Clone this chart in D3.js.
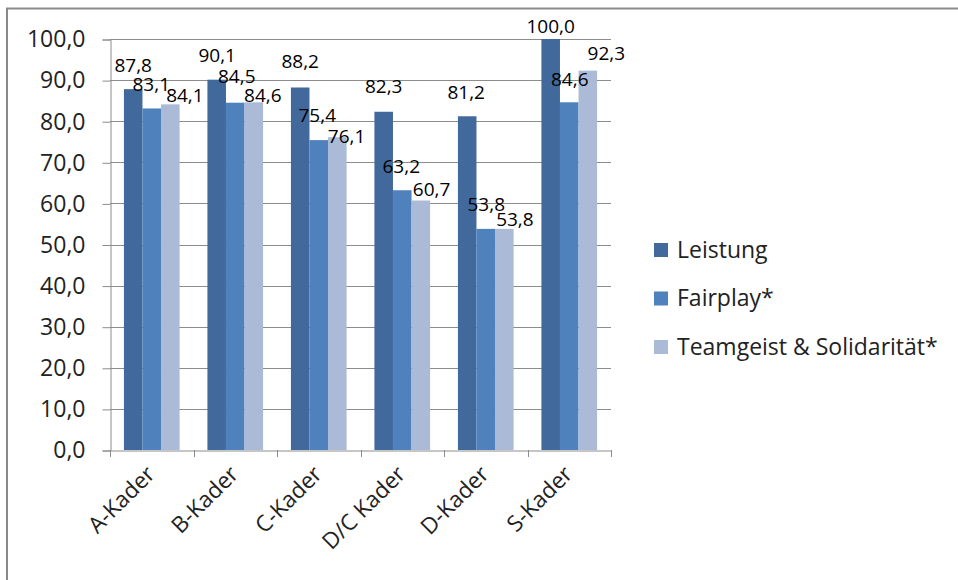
<!DOCTYPE html>
<html>
<head>
<meta charset="utf-8">
<script src="https://cdn.jsdelivr.net/npm/d3@7/dist/d3.min.js"></script>
<style>
  html, body { margin: 0; padding: 0; background: #fff; }
  svg { display: block; font-family: "Open Sans", "DejaVu Sans", sans-serif; }
</style>
</head>
<body>
<svg id="chart" width="958" height="580"></svg>
<script>
// Kader categories and the three rated attributes (percent)
const categories = ["A-Kader", "B-Kader", "C-Kader", "D/C Kader", "D-Kader", "S-Kader"];
const seriesNames = ["Leistung", "Fairplay*", "Teamgeist & Solidarität*"];
const leistung  = [87.8, 90.1, 88.2, 82.3, 81.2, 100.0];
const fairplay  = [83.1, 84.5, 75.4, 63.2, 53.8, 84.6];
const teamgeist = [84.1, 84.6, 76.1, 60.7, 53.8, 92.3];
const yTicks = [0, 10, 20, 30, 40, 50, 60, 70, 80, 90, 100];

const seriesValues = [leistung, fairplay, teamgeist];
const colors = ["#41699C", "#4F81BD", "#AABAD7"];

// Label placement: [dx, distance of baseline above bar top], per series and category
const labelPlacement = [
  [[0, 17.5], [0.5, 18], [0, 19.5], [0, 19], [-1, 17], [0, 6]],
  [[-0.5, 17.5], [1.5, 19.4], [-1.5, 17.8], [-1, 17], [0.5, 18], [0.5, 16.3]],
  [[14.6, 2.2], [9, 0.6], [9.3, -6], [10.8, 4.5], [10.6, 3], [18.5, 10.6]]
];

const svg = d3.select("#chart");
const fmt = v => d3.format(".1f")(v).replace(".", ",");

const plotLeft = 110, plotRight = 611, plotTop = 39, plotBottom = 450;

// outer frame (only top and left edges fall inside the view)
svg.append("rect")
  .attr("x", 7).attr("y", 8.5)
  .attr("width", 1000).attr("height", 1000)
  .attr("fill", "none").attr("stroke", "#8a8a8a").attr("stroke-width", 2);

const x0 = d3.scaleBand().domain(categories).range([plotLeft, plotRight]).paddingInner(0).paddingOuter(0);
const x1 = d3.scaleBand().domain(d3.range(seriesNames.length)).range([0, x0.bandwidth()])
  .paddingInner(0).paddingOuter(0.75);
const y = d3.scaleLinear().domain([0, 100]).range([plotBottom, plotTop]);

// gridlines
svg.append("g")
  .selectAll("line")
  .data(yTicks.filter(t => t > 0))
  .join("line")
  .attr("x1", plotLeft).attr("x2", plotRight)
  .attr("y1", d => Math.round(y(d)) + 0.5).attr("y2", d => Math.round(y(d)) + 0.5)
  .attr("stroke", "#8c8c8c").attr("stroke-width", 1);

// y axis
const yAxis = svg.append("g")
  .attr("transform", `translate(${plotLeft + 0.5},0.5)`)
  .call(d3.axisLeft(y).tickValues(yTicks).tickFormat(fmt).tickSize(8).tickPadding(17));
yAxis.select(".domain").attr("stroke", "#8c8c8c");
yAxis.selectAll(".tick line").attr("stroke", "#8c8c8c");
yAxis.selectAll("text")
  .attr("font-size", 23).attr("fill", "#222")
  .attr("font-family", "'Open Sans', sans-serif");

// bars
const groups = svg.append("g")
  .selectAll("g")
  .data(seriesValues)
  .join("g")
  .attr("fill", (d, i) => colors[i]);

groups.each(function (vals, si) {
  d3.select(this).selectAll("rect")
    .data(vals)
    .join("rect")
    .attr("x", (d, ci) => x0(categories[ci]) + x1(si))
    .attr("width", x1.bandwidth())
    .attr("y", d => y(d))
    .attr("height", d => y(0) - y(d));
});

// x axis
const xAxis = svg.append("g")
  .attr("transform", `translate(0,${plotBottom + 0.5})`)
  .call(d3.axisBottom(x0).tickSize(0).tickFormat(""));
xAxis.select(".domain").attr("stroke", "#8c8c8c");
xAxis.selectAll(".tick").remove();
// tick marks at category boundaries
svg.append("g")
  .selectAll("line")
  .data(d3.range(categories.length + 1))
  .join("line")
  .attr("x1", i => Math.round(plotLeft + i * x0.step()) + 0.5)
  .attr("x2", i => Math.round(plotLeft + i * x0.step()) + 0.5)
  .attr("y1", plotBottom).attr("y2", plotBottom + 7)
  .attr("stroke", "#8c8c8c");

// rotated category labels
svg.append("g")
  .selectAll("text")
  .data(categories)
  .join("text")
  .attr("transform", d => `translate(${x0(d) + x0.bandwidth() / 2 - 1},${plotBottom + 20}) rotate(-45)`)
  .attr("text-anchor", "end")
  .attr("dy", "0.35em")
  .attr("font-size", 22.5)
  .attr("fill", "#222")
  .text(d => d);

// value labels
seriesValues.forEach((vals, si) => {
  svg.append("g")
    .selectAll("text")
    .data(vals)
    .join("text")
    .attr("x", (d, ci) => x0(categories[ci]) + x1(si) + x1.bandwidth() / 2 + labelPlacement[si][ci][0])
    .attr("y", (d, ci) => y(d) - labelPlacement[si][ci][1])
    .attr("text-anchor", "middle")
    .attr("font-size", 19)
    .attr("fill", "#000")
    .text(d => fmt(d));
});

// legend
const legend = svg.append("g")
  .selectAll("g")
  .data(seriesNames)
  .join("g")
  .attr("transform", (d, i) => `translate(654,${243 + i * 48.5})`);
legend.append("rect")
  .attr("width", 14).attr("height", 14)
  .attr("fill", (d, i) => colors[i]);
legend.append("text")
  .attr("x", 23).attr("y", 14.5)
  .attr("font-size", 23)
  .attr("fill", "#222")
  .text(d => d);
</script>
</body>
</html>
